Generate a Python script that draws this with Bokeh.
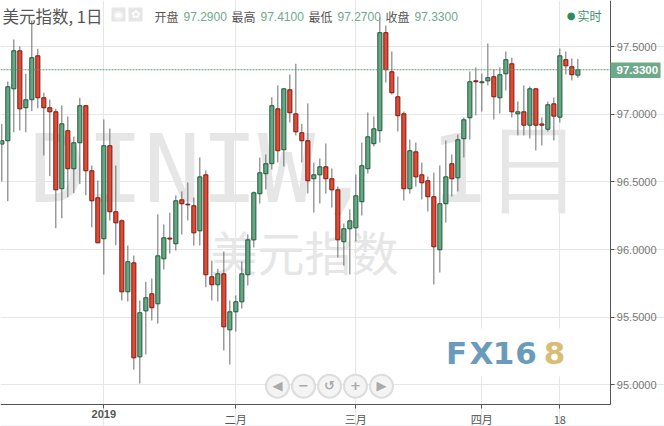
from bokeh.plotting import figure
from bokeh.models import ColumnDataSource, Label, BoxAnnotation, FixedTicker, PrintfTickFormatter
from bokeh.embed import file_html
from bokeh.resources import INLINE

opens = [96.780,96.805,97.189,97.470,97.049,97.108,97.433,97.123,97.049,97.019,96.450,96.879,96.598,96.790,97.064,96.583,96.383,96.080,96.768,96.280,
96.213,95.688,95.902,95.207,95.547,95.673,95.599,95.932,96.085,96.043,96.368,96.336,96.324,96.139,96.553,95.799,95.740,95.821,95.407,95.540,
95.614,95.814,96.072,96.413,96.561,96.635,97.041,96.738,97.182,97.004,96.864,96.805,96.524,96.553,96.612,96.524,96.442,96.058,96.154,96.161,
96.354,96.598,96.783,96.879,97.604,97.315,97.130,97.004,96.450,96.723,96.553,96.509,96.391,95.999,96.339,96.635,96.531,96.820,96.975,97.248,
97.234,97.248,97.278,97.123,97.300,97.374,97.004,97.019,96.920,97.189,96.929,96.890,97.078,96.979,97.404,97.352,97.290]
closes = [96.805,97.204,97.470,97.041,97.108,97.419,97.123,97.049,97.019,96.442,96.930,96.598,96.790,97.064,96.583,96.361,96.050,96.768,96.280,96.198,
95.688,95.910,95.200,95.533,95.644,95.570,95.954,96.087,96.078,96.361,96.339,96.331,96.124,96.538,95.814,95.740,95.821,95.429,95.540,95.614,
95.821,96.072,96.420,96.568,96.635,97.064,96.731,97.189,97.012,96.871,96.805,96.509,96.553,96.612,96.524,96.442,96.072,96.154,96.213,96.398,
96.620,96.834,96.893,97.604,97.330,97.160,96.990,96.450,96.731,96.538,96.494,96.391,96.021,96.339,96.538,96.524,96.812,96.960,97.241,97.241,
97.241,97.271,97.130,97.293,97.404,97.019,97.019,96.920,97.189,96.920,96.920,97.071,96.987,97.433,97.359,97.293,97.330]
highs = [96.930,97.243,97.554,97.502,97.300,97.694,97.485,97.160,97.110,97.041,97.066,96.984,96.836,97.123,97.070,96.622,96.511,96.962,96.895,96.622,
96.223,96.030,95.956,95.624,95.762,95.786,96.260,96.186,96.274,96.400,96.430,96.496,96.385,96.681,96.585,95.919,95.858,95.986,95.624,95.661,
95.912,96.112,96.430,96.681,96.703,97.127,97.214,97.192,97.295,97.374,96.930,97.081,96.644,96.674,96.785,96.600,96.467,96.193,96.297,96.555,
96.792,97.014,96.984,97.717,97.657,97.465,97.280,97.021,96.814,96.792,96.644,96.541,96.570,96.622,96.807,96.703,96.851,96.977,97.317,97.347,
97.302,97.524,97.332,97.347,97.465,97.419,97.095,97.214,97.206,97.192,96.977,97.095,97.125,97.487,97.465,97.413,97.410]
lows = [96.504,96.358,96.868,96.881,96.868,97.024,97.046,96.696,96.543,96.158,96.232,96.388,96.417,96.484,96.402,96.166,96.050,95.816,96.215,96.033,
95.624,95.616,95.113,95.010,95.224,95.476,95.453,95.853,95.971,95.993,96.112,96.215,96.030,96.030,95.722,95.624,95.616,95.254,95.150,95.394,
95.564,95.734,96.016,96.341,96.445,96.592,96.644,96.615,96.940,96.844,96.644,96.415,96.274,96.341,96.415,96.311,95.942,95.882,95.816,96.060,
96.252,96.563,96.763,96.792,97.236,97.147,96.873,96.363,96.415,96.467,96.371,96.282,95.742,95.831,96.200,96.393,96.430,96.681,96.814,96.992,
97.021,97.214,96.962,97.007,97.177,96.977,96.844,96.844,96.822,96.733,96.770,96.873,96.807,96.940,97.295,97.251,97.270]

y_ticks = [95.0, 95.5, 96.0, 96.5, 97.0, 97.5]
x_ticks = [17, 39, 59, 80, 93]
x_labels = ["2019", "二月", "三月", "四月", "18"]
last_price = 97.33
last_text = "97.3300"
title_text = "美元指数, 1日"
wm_main = "DINIW, 1日"
wm_sub = "美元指数"
ohlc_row = [("开盘", "97.2900"), ("最高", "97.4100"), ("最低", "97.2700"), ("收盘", "97.3300")]
button_x = [45.94, 50.28, 54.61, 58.94, 63.28]
button_y = [94.99] * 5
button_marks = ["◀", "−", "↺", "+", "▶"]

GREEN, GREEN_D = "#68a783", "#1d5a3c"
RED, RED_D = "#de4b36", "#7c1a10"
GRID = "#e6e6e6"
NUM = "#6ea98a"

W, H = 664, 426
X0, X1 = -0.222, 101.5    # the chart's own window; the frame also holds the axis margin
Y0, Y1 = 94.853, 97.842
p = figure(width=W, height=H, output_backend="svg", toolbar_location=None,
           x_range=(X0, 110.44), y_range=(94.692, Y1),
           y_axis_location="right", min_border=0,
           frame_width=W, frame_height=H, outline_line_color=None)

p.grid.grid_line_color = GRID
p.grid.grid_line_width = 1
p.xgrid.ticker = FixedTicker(ticks=x_ticks)
p.ygrid.ticker = FixedTicker(ticks=y_ticks)
p.xgrid.bounds = (Y0, Y1)
p.ygrid.bounds = (X0, X1)

p.yaxis.ticker = FixedTicker(ticks=y_ticks)
p.yaxis.formatter = PrintfTickFormatter(format="%.4f")
p.xaxis.ticker = FixedTicker(ticks=x_ticks)
p.xaxis.major_label_overrides = {t: ("" if s == "2019" else s) for t, s in zip(x_ticks, x_labels)}
p.xaxis.fixed_location = Y0
p.yaxis.fixed_location = X1
p.xaxis.bounds = (X0, X1)
p.yaxis.bounds = (Y0, Y1)
for ax in (p.xaxis[0], p.yaxis[0]):
    ax.axis_line_color = "#555555"
    ax.axis_line_width = 1
    ax.major_tick_line_color = "#555555"
    ax.major_tick_out = 4
    ax.major_tick_in = 0
    ax.minor_tick_line_color = None
    ax.major_label_text_color = "#777777"
    ax.major_label_text_font = "Liberation Sans"
    ax.major_label_text_font_size = "11px"
    ax.major_label_standoff = 2
p.xaxis[0].major_label_text_font = "Noto Sans CJK SC"
p.xaxis[0].major_label_text_color = "#555555"


def top(y):
    return H - y


def text(s, x, y, size, color, font="Liberation Sans", style="normal", align="left", level="annotation", **kw):
    lab = Label(x=x, y=top(y), x_units="screen", y_units="screen", text=s, text_font=font,
                text_font_size=f"{size}px", text_color=color, text_font_style=style,
                text_align=align, text_baseline="middle", level=level, **kw)
    p.add_layout(lab)
    return lab


def box(l, r, t, b, color, level="underlay"):
    p.add_layout(BoxAnnotation(left=l, right=r, top=top(t), bottom=top(b), left_units="screen",
                               right_units="screen", top_units="screen", bottom_units="screen",
                               fill_color=color, fill_alpha=1, line_color=None, level=level))


# watermark, under the candles
text(wm_main, 305, 168, 95, "#e6e6e6", font="DejaVu Sans Mono", align="center", level="underlay")
text(wm_sub, 304, 250, 47, "#e6e6e6", font="Noto Sans CJK SC", align="center", level="underlay")

# logo
box(435, 575, 328, 376, "white")
for ch, cx in zip("FX16", [456, 481, 503, 525.5]):
    text(ch, cx, 352, 31, "#6a9bbb", font="DejaVu Sans", style="bold", align="center", level="underlay")
text("8", 554, 352, 31, "#d9bd75", font="DejaVu Sans", style="bold", align="center", level="underlay")

# candles
xs = list(range(len(opens)))
src = ColumnDataSource(dict(
    x=xs, open=opens, close=closes, high=highs, low=lows,
    top=[max(a, b) for a, b in zip(opens, closes)],
    bottom=[min(a, b) for a, b in zip(opens, closes)],
    fill=[GREEN if c >= o else RED for o, c in zip(opens, closes)],
    edge=[GREEN_D if c >= o else RED_D for o, c in zip(opens, closes)],
))
p.segment("x", "high", "x", "low", source=src, line_color="#6b6b6b", line_width=1)
p.vbar("x", width=0.68, top="top", bottom="bottom", source=src, fill_color="fill",
       line_color="edge", line_width=1)

# last price line and box
p.segment([X0], [last_price], [X1], [last_price], line_color="#5d9c79", line_width=1, line_dash="2 1")
box(610, 660, 62, 77.5, "#6ea98a", level="annotation")
text(last_text, 616, 69.6, 11.5, "white", style="bold")

# bold year label and the page's foot line
text(x_labels[0], 103.3, 413, 11, "#555555", style="bold", align="center")
box(0, W, 425, 426, "#e8edf2")

# header
text(title_text, 2, 15.5, 16.5, "#555555", font="Noto Sans CJK SC")
for i, (lab, val) in enumerate(ohlc_row):
    text(lab, 154 + 77 * i, 16, 12, "#555555", font="Noto Sans CJK SC")
    text(val, 183 + 77 * i, 16, 12, NUM)
text("●", 570.5, 15, 10, "#2f8a5c", font="DejaVu Sans", align="center")
text("实时", 577, 15, 12, "#3d9468", font="Noto Sans CJK SC")
for cx, mark in zip([118, 135], ["◉", "✿"]):
    box(cx - 7, cx + 7, 7, 21, "#e6e6e6", level="annotation")
    text(mark, cx, 14, 11, "white", font="DejaVu Sans", align="center")

# zoom buttons
p.scatter(button_x, button_y, marker="circle", size=23, fill_color="#f4f4f4",
          line_color="#dddddd", line_width=2)
for bx, mark in zip([277, 303, 329, 355, 381], button_marks):
    text(mark, bx, 385, 13, "#aaaaaa", font="DejaVu Sans", style="bold", align="center")

open("out.html", "w").write(file_html(p, INLINE))
